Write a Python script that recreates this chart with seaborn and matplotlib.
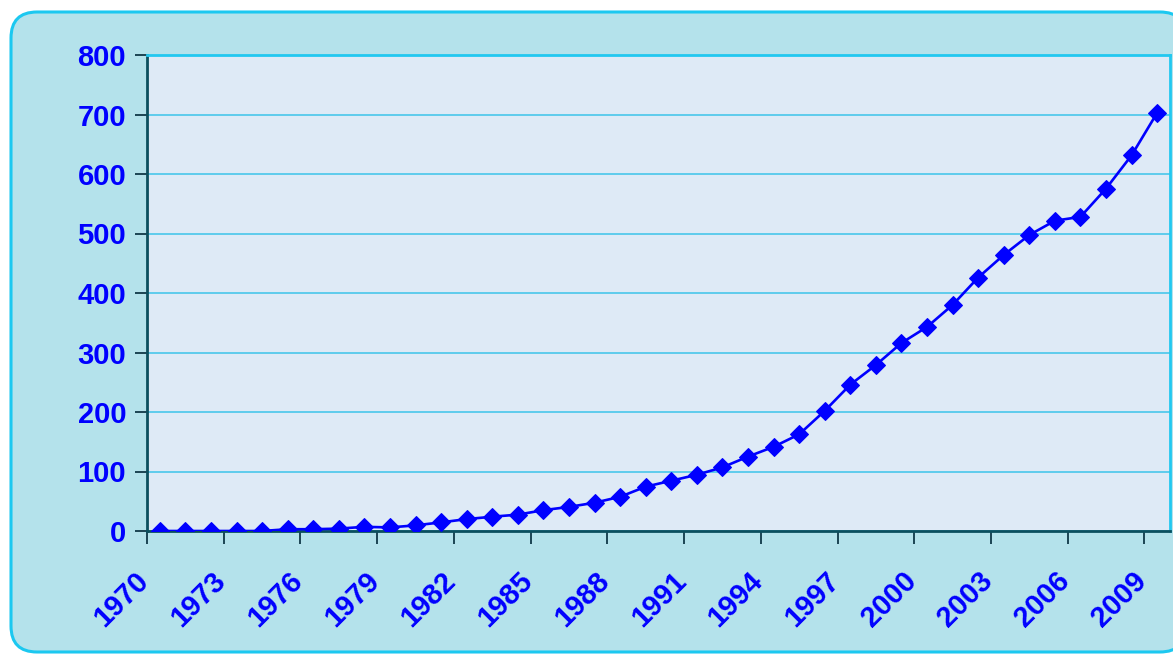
import numpy as np
import pandas as pd
import matplotlib
matplotlib.use("Agg")
import matplotlib.pyplot as plt
from matplotlib.patches import FancyBboxPatch
from matplotlib.ticker import FixedLocator, NullFormatter
import seaborn as sns

# Yearly series, 1970-2009
years = list(range(1970, 2010))
values = [0, 0, 0, 0, 0, 3, 3, 4, 7, 6,
          9.5, 14.5, 20, 24, 27.5, 35, 40.5, 47.5, 57.5, 74.5,
          84.5, 94.5, 107, 125, 141.5, 162.5, 202, 246, 279, 316,
          343, 380, 426, 464, 497.5, 521.5, 528, 575.5, 631.5, 703]
y_ticks = [0, 100, 200, 300, 400, 500, 600, 700, 800]
label_years = years[::3]

sns.set_theme(style="white")
plt.rcParams["font.family"] = ["Liberation Sans", "DejaVu Sans"]

W, H = 1173, 655
fig = plt.figure(figsize=(W / 100, H / 100), dpi=100)
fig.patch.set_facecolor("white")

# Rounded panel behind the chart
panel = FancyBboxPatch((11, 3), 1175, 640,
                       boxstyle="round,pad=0,rounding_size=26",
                       transform=None, facecolor="#B4E2EB",
                       edgecolor="#1CC8F0", linewidth=2.2, zorder=-10)
fig.patches.append(panel)

ax = fig.add_axes([147 / W, 1 - 531 / H, (1170 - 147) / W, (531 - 55) / H])
ax.set_zorder(1)
ax.set_facecolor("#DEEAF6")

df = pd.DataFrame({"pos": np.arange(len(years)), "value": values})
sns.lineplot(data=df, x="pos", y="value", ax=ax, color="#0000FF",
             linewidth=1.9, marker="D", markersize=9.5,
             markeredgecolor="#0000FF", markerfacecolor="#0000FF", zorder=5)

ax.set_xlim(-0.5, len(years) - 0.5)
ax.set_ylim(0, 800)

# Category boundaries carry the tick marks
ax.xaxis.set_major_locator(FixedLocator(np.arange(-0.5, len(years), 3)))
ax.xaxis.set_major_formatter(NullFormatter())
ax.tick_params(axis="x", which="major", direction="out", length=9,
               width=1.3, color="#103848", bottom=True)

# Slanted year labels under every third category
for yr in label_years:
    ax.annotate(str(yr), xy=(years.index(yr), 0),
                xycoords=("data", "axes fraction"),
                xytext=(-11, -33), textcoords="offset points",
                rotation=45, ha="right", va="center",
                rotation_mode="anchor", fontsize=21, fontweight="bold",
                color="#0000FF", annotation_clip=False)

ax.set_yticks(y_ticks)
ax.set_yticklabels([str(v) for v in y_ticks], fontsize=21,
                   fontweight="bold", color="#0000FF")
ax.tick_params(axis="y", direction="out", length=9, width=1.3,
               color="#103848", left=True, pad=6)

ax.grid(axis="y", color="#3CC4EA", linewidth=1.1)
ax.grid(axis="x", visible=False)
ax.set_axisbelow(True)
ax.set_xlabel("")
ax.set_ylabel("")

for side in ("left", "bottom"):
    ax.spines[side].set_color("#0B4F5E")
    ax.spines[side].set_linewidth(2.0)
for side in ("top", "right"):
    ax.spines[side].set_color("#22C8F0")
    ax.spines[side].set_linewidth(2.0)

fig.savefig("out.png", dpi=100)
